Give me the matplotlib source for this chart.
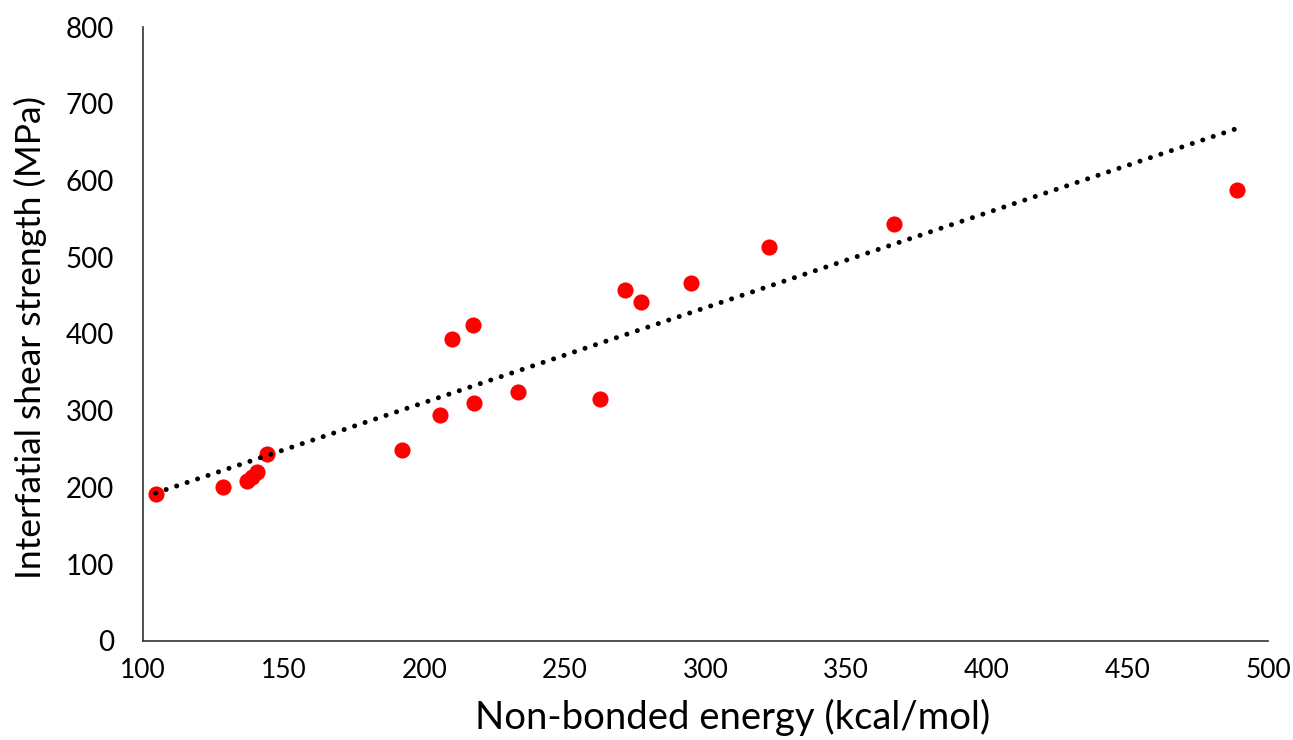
import numpy as np
import matplotlib.pyplot as plt

# 非結合エネルギー (kcal/mol) と界面せん断強度 (MPa)
energy = [104.5, 128.4, 136.8, 138.6, 140.4, 144.2, 192.1, 205.6, 210.0, 217.4,
          217.8, 233.4, 262.5, 271.3, 277.0, 294.7, 322.6, 367.0, 489.0]
strength = [191, 201, 209, 214, 220, 244, 249, 295, 393, 412,
            310, 325, 315, 457, 442, 466, 514, 543, 588]

x_ticks = [100, 150, 200, 250, 300, 350, 400, 450, 500]
y_ticks = [0, 100, 200, 300, 400, 500, 600, 700, 800]


def main():
    plt.rcParams['font.family'] = ['Lato', 'DejaVu Sans']
    fig = plt.figure(figsize=(12.93, 7.4), dpi=100)
    ax = fig.add_axes([0.1106, 0.1338, 0.8701, 0.8297])

    ax.scatter(energy, strength, s=135, color='#ff0000', zorder=3, linewidths=0)

    # 線形近似 (Excel の近似曲線と同じ)
    coef = np.polyfit(energy, strength, 1)
    xs = np.array([min(energy), max(energy)])
    ax.plot(xs, np.polyval(coef, xs), color='black', lw=3.6,
            linestyle=(0, (0.01, 2.2)), dash_capstyle='round', zorder=4)

    ax.set_xlim(100, 500)
    ax.set_ylim(0, 800)
    ax.set_xticks(x_ticks)
    ax.set_yticks(y_ticks)
    ax.tick_params(length=0, colors='black')
    ax.tick_params(axis='x', pad=12, labelsize=19)
    ax.tick_params(axis='y', pad=21, labelsize=20)
    for s in ['top', 'right']:
        ax.spines[s].set_visible(False)
    for s in ['left', 'bottom']:
        ax.spines[s].set_color('#333333')
        ax.spines[s].set_linewidth(1.2)

    ax.set_xlabel('Non-bonded energy (kcal/mol)', fontsize=27.5)
    ax.set_ylabel('Interfatial shear strength (MPa)', fontsize=25.5)
    ax.xaxis.set_label_coords(0.524, -0.094)
    ax.yaxis.set_label_coords(-0.085, 0.495)

    fig.savefig('out.png', dpi=100)


if __name__ == "__main__":
    main()
